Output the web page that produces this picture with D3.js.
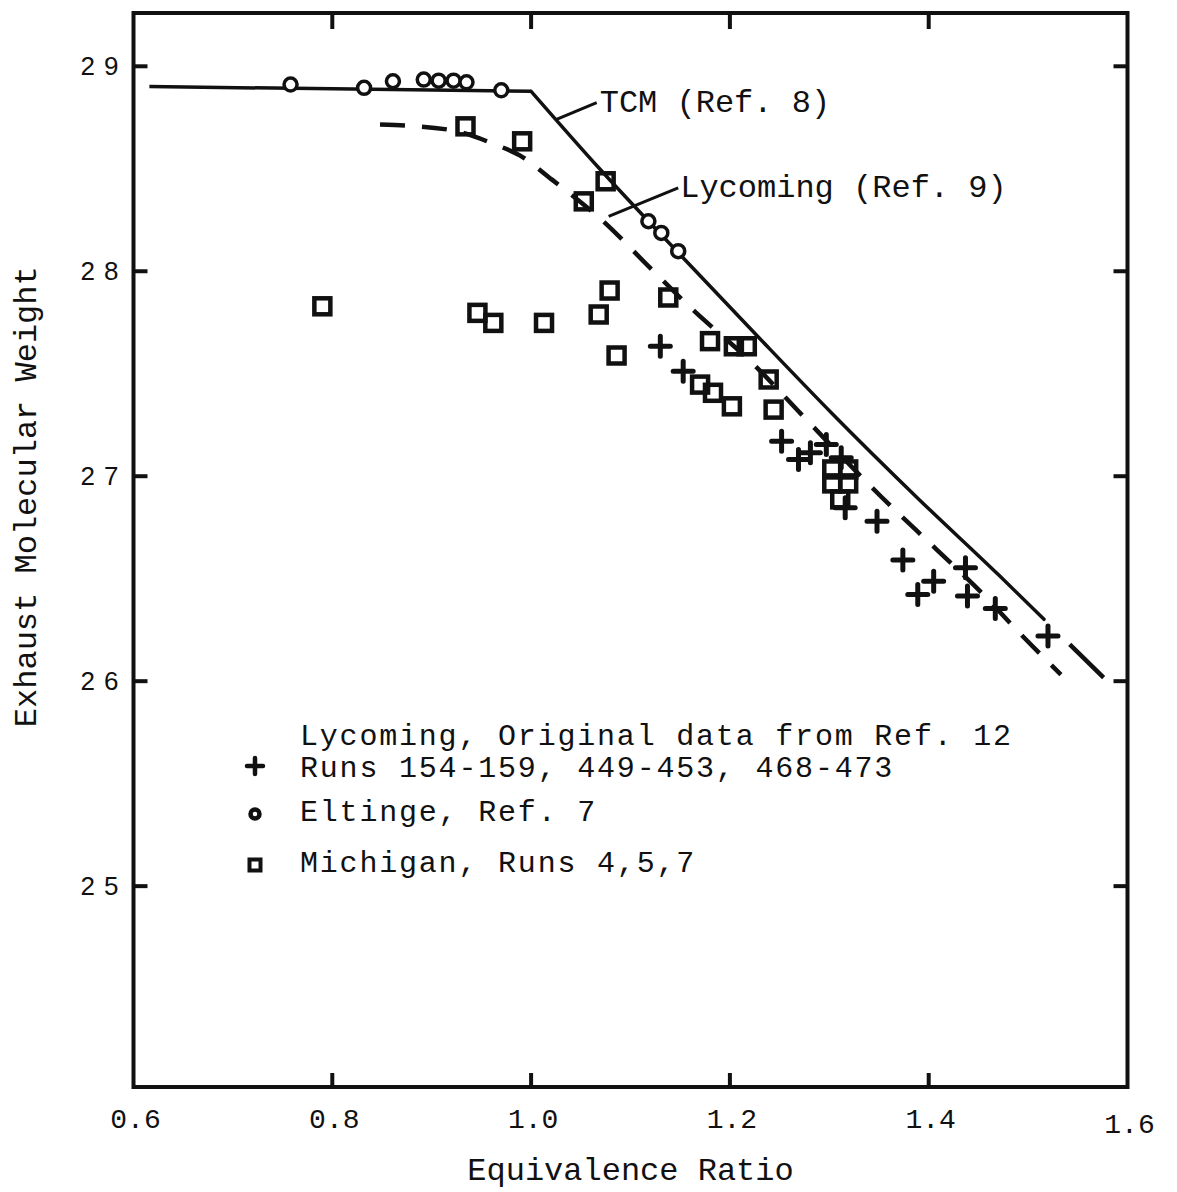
<!DOCTYPE html>
<html>
<head>
<meta charset="utf-8">
<script src="https://cdn.jsdelivr.net/npm/d3@7"></script>
<style>
  html, body { margin: 0; padding: 0; background: #fff; }
  svg { display: block; }
  .mono { font-family: "Liberation Mono", "Courier New", monospace; fill: #111; }
</style>
</head>
<body>
<svg id="chart" width="1177" height="1192"></svg>
<script>
// Axis ticks
const xTicks = [0.6, 0.8, 1.0, 1.2, 1.4, 1.6];
const yTicks = [25, 26, 27, 28, 29];

// TCM (Ref. 8) curve: flat lean branch, falling rich branch, dashed extension
const tcmFlat = [[0.616, 28.901], [1.0, 28.878]];
const tcmRich = [[1.0, 28.878], [1.068, 28.505], [1.155, 28.055], [1.230, 27.672],
                 [1.303, 27.305], [1.390, 26.888], [1.470, 26.520], [1.516, 26.302]];
const tcmExtension = [[1.516, 26.302], [1.576, 26.017]];

// Lycoming (Ref. 9) curve
const lycomingLine = [[0.848, 28.716], [0.917, 28.691], [0.964, 28.618], [0.989, 28.564],
                      [1.021, 28.447], [1.073, 28.242], [1.119, 28.020], [1.161, 27.820],
                      [1.224, 27.545], [1.275, 27.286], [1.352, 26.901], [1.408, 26.642],
                      [1.454, 26.428], [1.491, 26.237], [1.533, 26.032]];

// Lycoming, original data from Ref. 12 (+)
const lycomingData = [[1.130, 27.634], [1.153, 27.512], [1.252, 27.171], [1.269, 27.082],
                      [1.281, 27.114], [1.297, 27.155], [1.312, 27.090], [1.316, 26.846],
                      [1.348, 26.780], [1.374, 26.591], [1.405, 26.488], [1.389, 26.423],
                      [1.437, 26.553], [1.439, 26.415], [1.467, 26.355], [1.520, 26.220]];

// Eltinge, Ref. 7 (circles)
const eltingeData = [[0.758, 28.911], [0.832, 28.895], [0.861, 28.927], [0.892, 28.935],
                     [0.907, 28.930], [0.922, 28.930], [0.935, 28.922], [0.970, 28.883],
                     [1.118, 28.244], [1.131, 28.187], [1.148, 28.098]];

// Michigan, Runs 4,5,7 (squares)
const michiganData = [[0.790, 27.829], [0.946, 27.797], [0.962, 27.748], [1.013, 27.748],
                      [1.068, 27.789], [1.079, 27.906], [1.086, 27.589], [0.934, 28.707],
                      [0.991, 28.634], [1.075, 28.439], [1.053, 28.341], [1.138, 27.872],
                      [1.180, 27.659], [1.204, 27.634], [1.217, 27.634], [1.170, 27.447],
                      [1.183, 27.407], [1.202, 27.341], [1.239, 27.472], [1.244, 27.325],
                      [1.303, 27.033], [1.319, 27.033], [1.303, 26.965], [1.319, 26.965],
                      [1.311, 26.887]];

// Curve labels: leader start, leader end, text anchor
const curveLabels = [
  { text: "TCM (Ref. 8)", from: [1.025, 28.740], to: [1.066, 28.823], at: [1.069, 28.779] },
  { text: "Lycoming (Ref. 9)", from: [1.078, 28.268], to: [1.148, 28.407], at: [1.150, 28.360] }
];

// Legend entries
const legendEntries = [
  { symbol: "plus",   lines: ["Lycoming, Original data from Ref. 12", "Runs 154-159, 449-453, 468-473"] },
  { symbol: "circle", lines: ["Eltinge, Ref. 7"] },
  { symbol: "square", lines: ["Michigan, Runs 4,5,7"] }
];

const ink = "#111";
const svg = d3.select("#chart");

const x = d3.scaleLinear().domain([0.6, 1.6]).range([133.5, 1127.5]);
const y = d3.scaleLinear().domain([24.02, 29.26]).range([1087, 13]);

// Plot frame
svg.append("rect")
  .attr("x", x(0.6)).attr("y", y(29.26))
  .attr("width", x(1.6) - x(0.6)).attr("height", y(24.02) - y(29.26))
  .attr("fill", "none").attr("stroke", ink).attr("stroke-width", 4);

// Inward ticks on all four sides
const innerX = xTicks.filter(d => d > 0.6 && d < 1.6);
svg.append("g").selectAll("line").data(innerX).join("line")
  .attr("x1", d => x(d)).attr("x2", d => x(d))
  .attr("y1", y(24.02)).attr("y2", y(24.02) - 14)
  .attr("stroke", ink).attr("stroke-width", 4);
svg.append("g").selectAll("line").data(innerX).join("line")
  .attr("x1", d => x(d)).attr("x2", d => x(d))
  .attr("y1", y(29.26)).attr("y2", y(29.26) + 16)
  .attr("stroke", ink).attr("stroke-width", 4);
svg.append("g").selectAll("line").data(yTicks).join("line")
  .attr("x1", x(0.6)).attr("x2", x(0.6) + 14)
  .attr("y1", d => y(d)).attr("y2", d => y(d))
  .attr("stroke", ink).attr("stroke-width", 4);
svg.append("g").selectAll("line").data(yTicks).join("line")
  .attr("x1", x(1.6)).attr("x2", x(1.6) - 14)
  .attr("y1", d => y(d)).attr("y2", d => y(d))
  .attr("stroke", ink).attr("stroke-width", 4);

// Tick labels
svg.append("g").selectAll("text").data(xTicks).join("text")
  .attr("class", "mono")
  .attr("x", d => x(d) + 2).attr("y", d => d === 1.6 ? 1133 : 1128)
  .attr("text-anchor", "middle")
  .attr("font-size", 28)
  .text(d => d.toFixed(1));

svg.append("g").selectAll("text").data(yTicks).join("text")
  .attr("x", x(0.6) - 15 + 9).attr("y", d => y(d) + 9)
  .attr("text-anchor", "end")
  .attr("font-family", "'Liberation Sans', Arial, sans-serif")
  .attr("font-size", 26).attr("letter-spacing", 9)
  .attr("fill", ink)
  .text(d => d);

// Axis titles
svg.append("text").attr("class", "mono")
  .attr("x", (x(0.6) + x(1.6)) / 2).attr("y", 1180)
  .attr("text-anchor", "middle").attr("font-size", 32)
  .text("Equivalence Ratio");
svg.append("text").attr("class", "mono")
  .attr("transform", `translate(36, ${y(26.9)}) rotate(-90)`)
  .attr("text-anchor", "middle").attr("font-size", 32)
  .text("Exhaust Molecular Weight");

const line = d3.line().x(d => x(d[0])).y(d => y(d[1]));
const smooth = d3.line().x(d => x(d[0])).y(d => y(d[1])).curve(d3.curveMonotoneX);

// TCM curve
svg.append("path").datum(tcmFlat)
  .attr("d", line).attr("fill", "none")
  .attr("stroke", ink).attr("stroke-width", 3.5);
svg.append("path").datum(tcmRich)
  .attr("d", smooth).attr("fill", "none")
  .attr("stroke", ink).attr("stroke-width", 3.5).attr("stroke-linecap", "round");
svg.append("path").datum(tcmExtension)
  .attr("d", line).attr("fill", "none")
  .attr("stroke", ink).attr("stroke-width", 4.5)
  .attr("stroke-dasharray", "0,36,48,200");

// Lycoming curve
svg.append("path").datum(lycomingLine)
  .attr("d", smooth).attr("fill", "none")
  .attr("stroke", ink).attr("stroke-width", 4.5)
  .attr("stroke-dasharray", "25,17");

// Curve labels with leaders
const lab = svg.append("g");
curveLabels.forEach(c => {
  lab.append("line")
    .attr("x1", x(c.from[0])).attr("y1", y(c.from[1]))
    .attr("x2", x(c.to[0])).attr("y2", y(c.to[1]))
    .attr("stroke", ink).attr("stroke-width", 3);
  lab.append("text").attr("class", "mono")
    .attr("x", x(c.at[0])).attr("y", y(c.at[1]))
    .attr("font-size", 32)
    .text(c.text);
});

// Marker drawing helpers
function drawPlus(g, size, sw) {
  g.append("path")
    .attr("d", `M${-size},0H${size}M0,${-size}V${size}`)
    .attr("stroke", ink).attr("stroke-width", sw).attr("stroke-linecap", "round");
}
function drawCircle(g, r, sw) {
  g.append("circle").attr("r", r)
    .attr("fill", "#fff").attr("stroke", ink).attr("stroke-width", sw);
}
function drawSquare(g, half, sw) {
  g.append("rect").attr("x", -half).attr("y", -half)
    .attr("width", 2 * half).attr("height", 2 * half)
    .attr("fill", "none").attr("stroke", ink).attr("stroke-width", sw);
}

// Data points
svg.append("g").selectAll("g").data(eltingeData).join("g")
  .attr("transform", d => `translate(${x(d[0])},${y(d[1])})`)
  .each(function () { drawCircle(d3.select(this), 6.5, 3.5); });

svg.append("g").selectAll("g").data(michiganData).join("g")
  .attr("transform", d => `translate(${x(d[0])},${y(d[1])})`)
  .each(function () { drawSquare(d3.select(this), 8, 4.5); });

svg.append("g").selectAll("g").data(lycomingData).join("g")
  .attr("transform", d => `translate(${x(d[0])},${y(d[1])})`)
  .each(function () { drawPlus(d3.select(this), 10, 5); });

// Legend
const legend = svg.append("g");
const legendRows = [
  { symbolY: 766, textY: [745, 777] },
  { symbolY: 814, textY: [821] },
  { symbolY: 865, textY: [872] }
];
legendEntries.forEach((e, i) => {
  const row = legendRows[i];
  const s = legend.append("g").attr("transform", `translate(255,${row.symbolY})`);
  if (e.symbol === "plus") drawPlus(s, 8, 4.5);
  else if (e.symbol === "circle") drawCircle(s, 4.5, 4.5);
  else drawSquare(s, 5.5, 4);
  e.lines.forEach((t, j) => {
    legend.append("text").attr("class", "mono")
      .attr("x", 300).attr("y", row.textY[j])
      .attr("font-size", 30).attr("letter-spacing", 1.8)
      .text(t);
  });
});
</script>
</body>
</html>
